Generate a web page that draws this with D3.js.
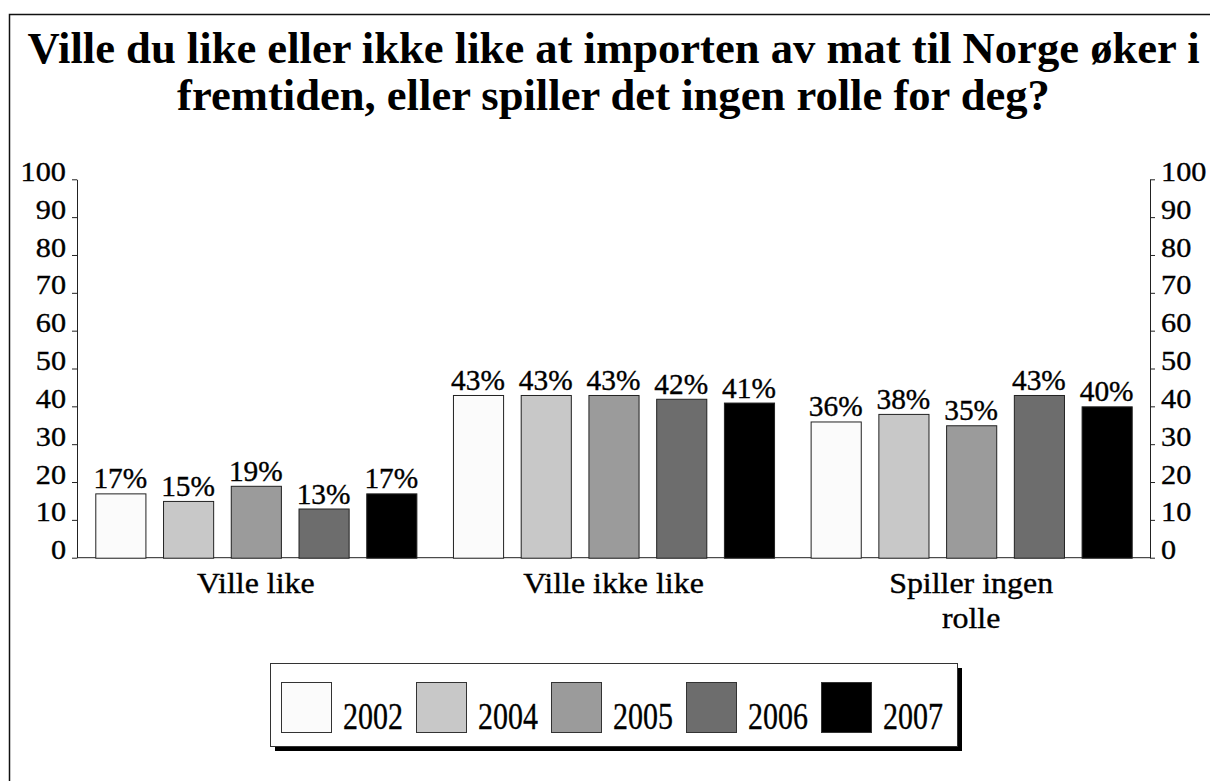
<!DOCTYPE html>
<html>
<head>
<meta charset="utf-8">
<script src="https://cdn.jsdelivr.net/npm/d3@7"></script>
<style>
  html, body { margin: 0; padding: 0; background: #fff; }
  svg { display: block; font-family: 'Liberation Serif', 'Times New Roman', serif; }
  .heavy { stroke: #000; stroke-width: 0.35px; }
</style>
</head>
<body>
<svg id="chart" width="1210" height="781"></svg>
<script>
// ── Data ────────────────────────────────────────────────────────────────────
const titleLines = [
  'Ville du like eller ikke like at importen av mat til Norge øker i',
  'fremtiden, eller spiller det ingen rolle for deg?'
];
const categories = ['Ville like', 'Ville ikke like', 'Spiller ingen rolle'];
const categoryLines = [['Ville like'], ['Ville ikke like'], ['Spiller ingen', 'rolle']];
const years = ['2002', '2004', '2005', '2006', '2007'];
const yearColors = ['#fbfbfb', '#c8c8c8', '#9b9b9b', '#6d6d6d', '#000000'];
const values = {
  '2002': [17, 43, 36],
  '2004': [15, 43, 38],
  '2005': [19, 43, 35],
  '2006': [13, 42, 43],
  '2007': [17, 41, 40]
};
const yTicks = [0, 10, 20, 30, 40, 50, 60, 70, 80, 90, 100];

// stretch text horizontally by factor k (fonts in the original are wider/narrower)
function stretch(sel, k) {
  sel.each(function() {
    const w = this.getComputedTextLength();
    d3.select(this).attr('textLength', w * k).attr('lengthAdjust', 'spacingAndGlyphs');
  });
}

const svg = d3.select('#chart');

// ── Frame ───────────────────────────────────────────────────────────────────
svg.append('rect')
  .attr('x', 9.5).attr('y', 14.5)
  .attr('width', 1400).attr('height', 900)
  .attr('fill', 'none').attr('stroke', '#111').attr('stroke-width', 1.5);

// ── Title ───────────────────────────────────────────────────────────────────
svg.append('g').selectAll('text')
  .data(titleLines)
  .join('text')
  .attr('x', 613.5)
  .attr('y', (d, i) => 63 + i * 47)
  .attr('text-anchor', 'middle')
  .attr('font-size', 44.6)
  .attr('font-weight', 'bold')
  .attr('fill', '#000')
  .text(d => d);

// ── Scales ──────────────────────────────────────────────────────────────────
const plotL = 77, plotR = 1150, plotT = 179.3, plotB = 557.7;

const x0 = d3.scaleBand().domain(categories).range([plotL, plotR]).padding(0);
const x1 = d3.scaleBand().domain(years).range([0, x0.bandwidth()])
  .paddingInner(0.26).paddingOuter(0.27);
const y = d3.scaleLinear().domain([0, 100]).range([plotB, plotT]);

// ── Axes ────────────────────────────────────────────────────────────────────
const axisL = svg.append('g')
  .attr('transform', `translate(${plotL},0)`)
  .call(d3.axisLeft(y).tickValues(yTicks).tickSize(5).tickSizeOuter(0).tickPadding(6));
const axisR = svg.append('g')
  .attr('transform', `translate(${plotR},0)`)
  .call(d3.axisRight(y).tickValues(yTicks).tickSize(5).tickSizeOuter(0).tickPadding(6));

[axisL, axisR].forEach(ax => {
  ax.select('.domain').attr('stroke', '#222').attr('stroke-width', 1);
  ax.selectAll('.tick line').attr('stroke', '#222');
  ax.selectAll('.tick text')
    .attr('class', 'heavy')
    .attr('font-family', "'Liberation Serif', serif")
    .attr('font-size', 27.5)
    .attr('fill', '#000')
    .attr('dy', '0.04em');
  stretch(ax.selectAll('.tick text'), 1.1);
});

// baseline
svg.append('line')
  .attr('x1', plotL).attr('x2', plotR)
  .attr('y1', y(0)).attr('y2', y(0))
  .attr('stroke', '#222').attr('stroke-width', 1);

// ── Bars ────────────────────────────────────────────────────────────────────
const groups = svg.append('g').selectAll('g')
  .data(categories)
  .join('g')
  .attr('transform', d => `translate(${x0(d)},0)`);

const barData = (c, ci) => years.map((yr, yi) => ({ year: yr, yi, v: values[yr][ci] }));

groups.each(function(c, ci) {
  const g = d3.select(this);
  const data = barData(c, ci);

  g.selectAll('rect')
    .data(data)
    .join('rect')
    .attr('x', d => x1(d.year) + 0.5)
    .attr('y', d => y(d.v) + 0.5)
    .attr('width', x1.bandwidth())
    .attr('height', d => y(0) - y(d.v))
    .attr('fill', d => yearColors[d.yi])
    .attr('stroke', '#222')
    .attr('stroke-width', 1);

  const labels = g.selectAll('text')
    .data(data)
    .join('text')
    .attr('class', 'heavy')
    .attr('x', d => x1(d.year) + x1.bandwidth() / 2)
    .attr('y', d => y(d.v) - 5)
    .attr('text-anchor', 'middle')
    .attr('font-size', 28.5)
    .attr('fill', '#000')
    .text(d => d.v + '%');
  stretch(labels, 1.03);
});

// ── Category labels ─────────────────────────────────────────────────────────
svg.append('g').selectAll('text')
  .data(categories)
  .join('text')
  .attr('class', 'heavy')
  .attr('x', d => x0(d) + x0.bandwidth() / 2)
  .attr('y', 593)
  .attr('text-anchor', 'middle')
  .attr('font-size', 28.5)
  .attr('fill', '#000')
  .each(function(d, i) {
    const t = d3.select(this);
    const cx = x0(d) + x0.bandwidth() / 2;
    t.selectAll('tspan')
      .data(categoryLines[i])
      .join('tspan')
      .attr('x', cx)
      .attr('dy', (s, j) => j === 0 ? 0 : 35)
      .text(s => s);
    t.selectAll('tspan').each(function() {
      const w = this.getComputedTextLength();
      d3.select(this).attr('textLength', w * 1.12).attr('lengthAdjust', 'spacingAndGlyphs');
    });
  });

// ── Legend ──────────────────────────────────────────────────────────────────
const lgX = 270, lgY = 663, lgW = 687, lgH = 83;
svg.append('rect')
  .attr('x', lgX + 5).attr('y', lgY + 5)
  .attr('width', lgW).attr('height', lgH)
  .attr('fill', '#000');
svg.append('rect')
  .attr('x', lgX + 0.5).attr('y', lgY + 0.5)
  .attr('width', lgW).attr('height', lgH)
  .attr('fill', '#fff').attr('stroke', '#333').attr('stroke-width', 1);

const lx = d3.scaleBand().domain(years).range([281, 281 + 5 * 135]);

const items = svg.append('g').selectAll('g')
  .data(years)
  .join('g')
  .attr('transform', d => `translate(${lx(d)},0)`);

items.append('rect')
  .attr('x', 0.5).attr('y', 682.5)
  .attr('width', 50).attr('height', 50)
  .attr('fill', (d, i) => yearColors[i])
  .attr('stroke', '#333').attr('stroke-width', 1);

const lgText = items.append('text')
  .attr('class', 'heavy')
  .attr('x', 62)
  .attr('y', 728.5)
  .attr('font-size', 37)
  .attr('fill', '#000')
  .text(d => d);
stretch(lgText, 0.81);
</script>
</body>
</html>
